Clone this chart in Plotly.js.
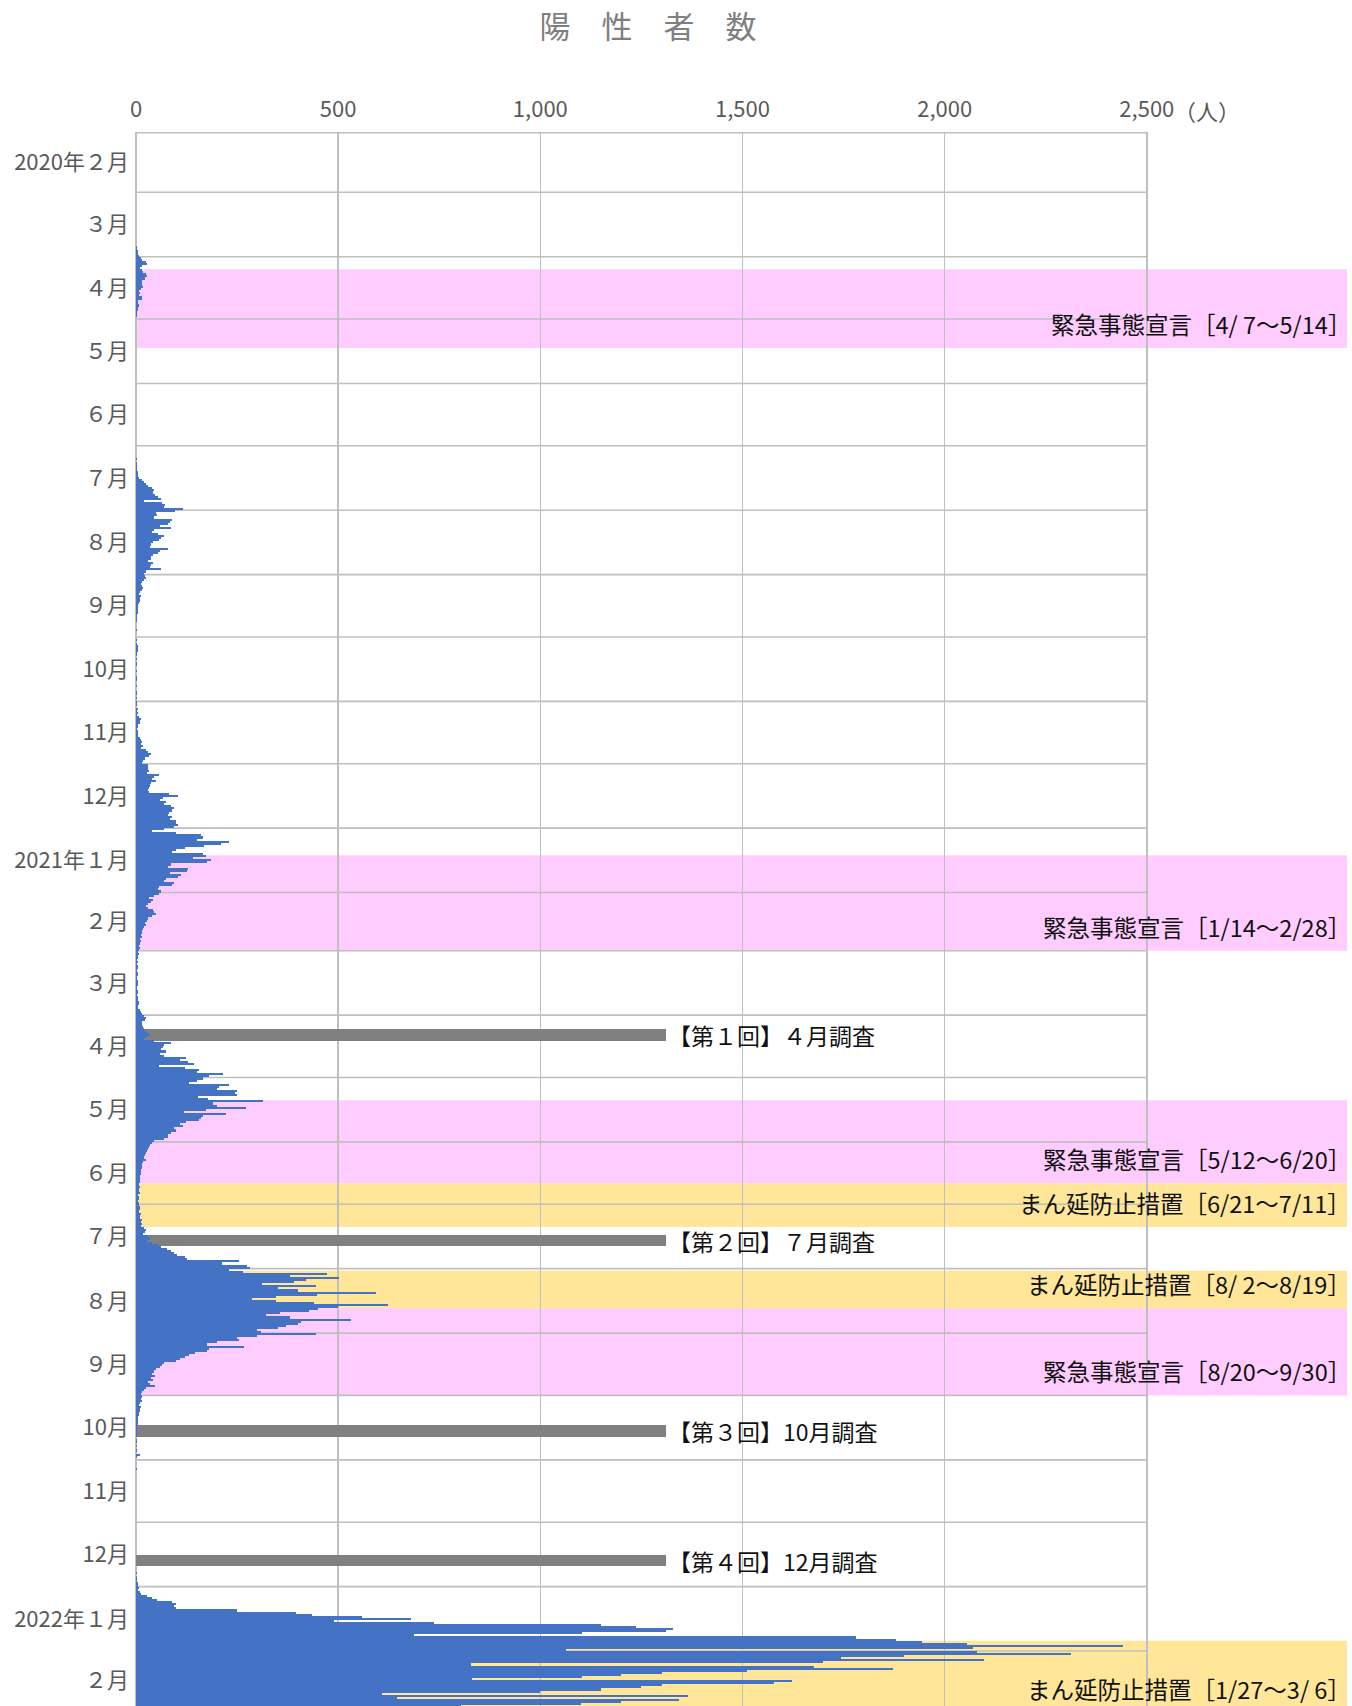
<!DOCTYPE html>
<html>
<head>
<meta charset="utf-8">
<script src="https://cdn.plot.ly/plotly-3.0.1.min.js"></script>
<style>
html,body{margin:0;padding:0;background:#ffffff;}
#chart{width:1352px;height:1706px;}
</style>
</head>
<body>
<div id="chart"></div>
<script>
// ---- daily positive cases, one array per month ----
const feb2020 = [0,0,0,0,0,0,0,0,0,0,0,0,0,0,0,0,0,0,0,1,0,0,0,0,0,0,0,0,0];
const mar2020 = [0,0,0,0,0,0,0,0,0,0,0,0,0,0,0,0,1,0,0,0,0,0,0,1,0,1,3,2,6,4,8];
const apr2020 = [12,16,25,26,14,10,16,18,25,27,22,16,15,14,17,12,8,9,7,16,15,6,5,8,4,5,3,2,3,1];
const may2020 = [1,0,1,1,0,0,1,0,1,0,1,0,0,0,1,0,0,0,0,0,0,0,0,1,0,0,0,0,0,1,0];
const jun2020 = [0,0,0,0,0,0,0,0,0,1,1,0,1,0,1,1,0,0,0,0,0,1,0,1,1,0,1,1,0,0];
const jul2020 = [0,1,0,1,1,0,2,1,2,3,2,3,4,5,6,8,14,20,25,30,40,45,42,48,55,62,20,65,72,70,115];
const aug2020 = [97,50,52,45,90,85,78,60,87,45,40,55,70,62,58,41,37,35,78,60,54,41,38,37,30,41,38,35,62,25,20];
const sep2020 = [22,25,20,15,12,16,18,14,10,8,12,10,9,8,6,5,4,5,4,3,3,2,2,1,1,0,2,1,0,1];
const oct2020 = [1,2,0,3,5,6,4,2,3,1,2,1,3,2,1,0,2,1,1,3,2,1,0,2,1,1,2,3,1,2,1];
const nov2020 = [2,3,1,4,2,6,3,8,12,10,9,5,4,3,6,4,5,10,12,15,13,18,12,25,30,37,33,22,18,15];
const dec2020 = [29,30,30,32,28,58,45,40,50,37,35,33,30,33,82,103,66,60,74,70,87,95,90,82,78,90,85,99,99,103,95];
const jan2021 = [70,40,100,160,165,150,230,210,169,120,99,90,165,173,140,185,175,87,80,128,125,83,112,105,74,70,95,90,58,55,62];
const feb2021 = [58,45,33,41,37,30,25,29,41,45,50,40,29,28,22,25,20,18,16,15,12,14,10,12,9,8,10,8];
const mar2021 = [5,8,4,6,3,5,2,4,6,3,5,4,2,3,5,6,4,3,2,5,4,3,6,5,8,7,4,6,9,12,15];
const apr2021 = [20,25,22,15,16,18,20,22,30,35,28,20,45,87,70,66,62,74,60,70,124,110,128,144,58,120,157,150,215,180];
const may2021 = [165,150,132,230,206,200,251,245,250,153,177,313,190,200,272,173,119,223,165,160,157,124,110,115,95,100,87,80,78,70,45];
const jun2021 = [40,35,33,30,28,25,22,20,25,18,16,15,14,12,13,12,10,9,11,10,8,9,7,8,10,6,7,8,6,7];
const jul2021 = [8,9,10,8,12,10,11,14,12,15,13,20,25,22,18,30,35,28,40,55,62,77,86,95,102,120,127,255,213,275,281];
const aug2021 = [230,265,473,380,502,420,391,312,444,350,400,593,448,345,288,345,440,624,500,450,428,356,321,380,531,407,400,370,350,300,310];
const sep2021 = [444,300,250,254,200,175,266,180,175,147,130,120,110,100,70,64,60,50,45,40,47,38,42,30,35,47,25,20,15,12];
const oct2021 = [15,12,14,10,8,12,9,11,7,8,6,5,4,6,3,4,3,2,3,2,1,2,3,1,2,1,2,1,10,3,1];
const nov2021 = [1,0,1,0,2,0,1,0,0,1,0,0,1,0,0,0,1,0,0,1,0,0,0,1,0,0,0,1,0,0];
const dec2021 = [0,1,0,0,1,0,0,0,1,0,0,1,0,0,0,1,0,1,0,0,1,0,1,1,2,1,2,3,2,4,5];
const jan2022 = [7,5,10,12,28,40,53,90,98,95,100,250,395,436,560,679,490,737,1150,1236,1327,1310,1104,687,1780,1879,1945,2054,2440,2069,1063];
const feb2022 = [2080,2312,1900,1743,2097,1700,828,1676,1871,1512,1300,1200,1104,832,1623,1578,1302,1250,1150,1000,609,1364,646,1343,1200,1100,803];

const monthlySeries = [feb2020,mar2020,apr2020,may2020,jun2020,jul2020,aug2020,sep2020,oct2020,nov2020,dec2020,
  jan2021,feb2021,mar2021,apr2021,may2021,jun2021,jul2021,aug2021,sep2021,oct2021,nov2021,dec2021,jan2022,feb2022];

// ---- month tick labels (top to bottom) ----
const monthLabels = ['2020年２月','３月','４月','５月','６月','７月','８月','９月','10月','11月','12月',
  '2021年１月','２月','３月','４月','５月','６月','７月','８月','９月','10月','11月','12月','2022年１月','２月'];

// ---- value axis ticks ----
const xTickValues = [0,500,1000,1500,2000,2500];
const xTickText = ['0','500','1,000','1,500','2,000','2,500'];

// ---- periods ----
const emergencyStart = ['2020-04-07','2021-01-14','2021-05-12','2021-08-20'];
const emergencyEnd   = ['2020-05-14','2021-02-28','2021-06-20','2021-09-30'];
const emergencyLabels = ['緊急事態宣言［4/ 7～5/14］','緊急事態宣言［1/14～2/28］','緊急事態宣言［5/12～6/20］','緊急事態宣言［8/20～9/30］'];
const manboStart = ['2021-06-21','2021-08-02','2022-01-27'];
const manboEnd   = ['2021-07-11','2021-08-19','2022-03-06'];
const manboLabels = ['まん延防止措置［6/21～7/11］','まん延防止措置［8/ 2～8/19］','まん延防止措置［1/27～3/ 6］'];

// ---- surveys ----
const surveyDates = ['2021-04-10 12:00','2021-07-18 12:00','2021-10-18 00:00','2021-12-19 12:00'];
const surveyValues = [1310,1310,1310,1310];
const surveyLabels = ['【第１回】４月調査','【第２回】７月調査','【第３回】10月調査','【第４回】12月調査'];

// ---------------------------------------------------------------------------
const DAY = 86400000;
function fmt(ms){ return new Date(ms).toISOString().slice(0,19).replace('T',' '); }
function parseDay(s){ const p = s.split(/[- :]/).map(Number); return Date.UTC(p[0],p[1]-1,p[2],p[3]||0,p[4]||0); }

const startMs = Date.UTC(2020,1,1);
const dayDates = [], dayValues = [];
monthlySeries.forEach(function(arr, k){
  const y = 2020 + Math.floor((1 + k) / 12), m = (1 + k) % 12;
  arr.forEach(function(v, d){
    dayDates.push(fmt(Date.UTC(y, m, d + 1, 12)));
    dayValues.push(v);
  });
});

// month centers (tick positions) and month starts (boundary lines)
const monthMid = [], monthStart = [];
for (let k = 0; k < monthLabels.length; k++) {
  const y = 2020 + Math.floor((1 + k) / 12), m = (1 + k) % 12;
  const s = Date.UTC(y, m, 1), e = Date.UTC(y, m + 1, 1);
  monthStart.push(s);
  monthMid.push(fmt((s + e) / 2));
}
const rangeEndMs = startMs + 757.46 * DAY;

const GRID = '#BFBFBF';
const FONT = '"Noto Sans CJK JP", "Noto Sans", sans-serif';

const shapes = [];
const annotations = [];
function addPeriod(s, e, color, label){
  const y0 = parseDay(s), y1 = parseDay(e) + DAY;
  shapes.push({type:'rect', xref:'paper', yref:'y', x0:0, x1:1, y0:fmt(y0), y1:fmt(Math.min(y1, rangeEndMs + 2*DAY)),
    fillcolor:color, line:{width:0}, layer:'below'});
  const c = Math.min(y1 - 11.6 * DAY, rangeEndMs - 8.2 * DAY);
  annotations.push({xref:'paper', yref:'y', x:1, y:fmt(c), xanchor:'right', yanchor:'middle', xshift:6,
    text:label, showarrow:false, font:{family:FONT, size:23.5, color:'#111111'}});
}
emergencyStart.forEach(function(s,i){ addPeriod(s, emergencyEnd[i], '#FFCCFF', emergencyLabels[i]); });
manboStart.forEach(function(s,i){ addPeriod(s, manboEnd[i], '#FFE699', manboLabels[i]); });

monthStart.forEach(function(ms, i){
  shapes.push({type:'line', xref:'x', yref:'y', x0:0, x1:2500, y0:fmt(ms), y1:fmt(ms),
    line:{color:GRID, width: i === 0 ? 3 : 1.6}, layer:'between'});
});

surveyLabels.forEach(function(t,i){
  annotations.push({xref:'x', yref:'y', x:surveyValues[i], y:surveyDates[i], xanchor:'left', yanchor:'middle',
    text:t, showarrow:false, font:{family:FONT, size:23, color:'#111111'}});
});

annotations.push({xref:'paper', yref:'paper', x:(1172-136)/1211, y:1, xanchor:'left', yanchor:'middle', yshift:22,
  text:'（人）', showarrow:false, font:{family:FONT, size:22, color:'#595959'}});

const traces = [
  {type:'bar', orientation:'h', x:surveyValues, y:surveyDates, width:5.6*DAY,
   marker:{color:'#808080', line:{width:0}}, hoverinfo:'skip', showlegend:false},
  {type:'bar', orientation:'h', x:dayValues, y:dayDates, width:1.0*DAY,
   marker:{color:'#4472C4', line:{width:0}}, name:'陽性者数', showlegend:false}
];

const layout = {
  width:1352, height:1706,
  margin:{l:136, r:5, t:132, b:0, pad:0},
  paper_bgcolor:'#ffffff', plot_bgcolor:'rgba(0,0,0,0)',
  font:{family:FONT, color:'#595959'},
  title:{text:'陽　性　者　数', x:648/1352, xanchor:'center', xref:'container', y:1-27/1706, yref:'container', yanchor:'middle',
    font:{family:FONT, size:31, color:'#7F7F7F'}},
  barmode:'overlay',
  bargap:0,
  bargroupgap:0,
  showlegend:false,
  xaxis:{side:'top', range:[0, 2995], tickmode:'array', tickvals:xTickValues, ticktext:xTickText,
    showgrid:true, gridcolor:GRID, gridwidth:1.6, zeroline:true, zerolinecolor:GRID, zerolinewidth:1.6,
    showline:false, ticks:'', ticklabelstandoff:10, tickfont:{family:FONT, size:22, color:'#595959'}, fixedrange:true},
  yaxis:{type:'date', range:[fmt(rangeEndMs), fmt(startMs)], tickmode:'array', tickvals:monthMid, ticktext:monthLabels,
    showgrid:false, zeroline:false, showline:false, ticks:'', ticklabelstandoff:6,
    tickfont:{family:FONT, size:22, color:'#595959'}, fixedrange:true},
  shapes:shapes,
  annotations:annotations
};

Plotly.newPlot('chart', traces, layout, {displayModeBar:false, staticPlot:true});
</script>
</body>
</html>
